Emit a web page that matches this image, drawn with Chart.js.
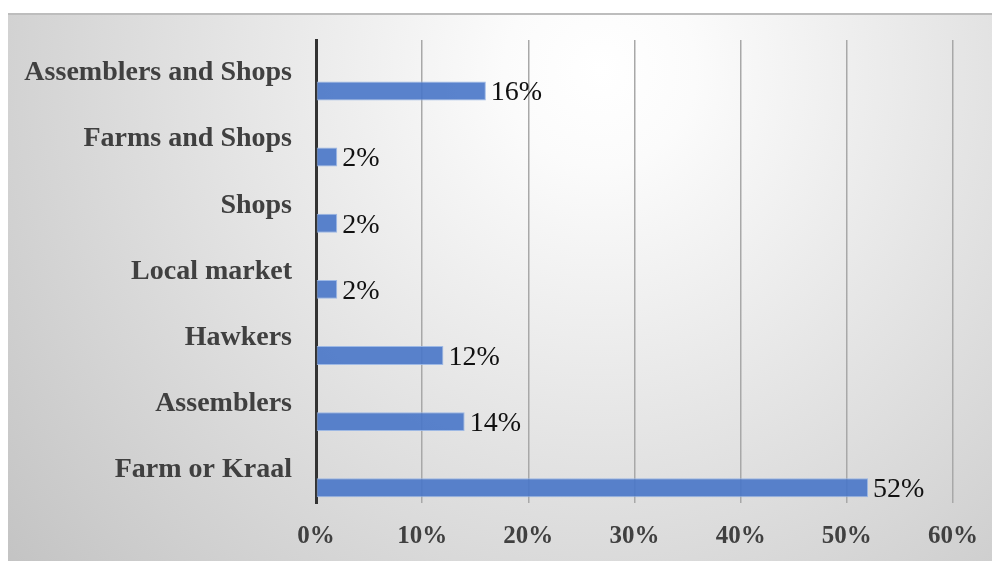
<!DOCTYPE html>
<html>
<head>
<meta charset="utf-8">
<script src="https://cdn.jsdelivr.net/npm/chart.js@4/dist/chart.umd.min.js"></script>
<style>
  html, body { margin: 0; padding: 0; background: #ffffff; }
  #wrap { width: 992px; height: 561px; position: relative; }
</style>
</head>
<body>
<div id="wrap"><canvas id="c" width="992" height="561"></canvas></div>
<script>
// ---- data ----
const categories = ["Assemblers and Shops", "Farms and Shops", "Shops", "Local market", "Hawkers", "Assemblers", "Farm or Kraal"];
const shareValues = [16, 2, 2, 2, 12, 14, 52];
const hiddenSeries = [null, null, null, null, null, null, null];
const xTicks = [0, 10, 20, 30, 40, 50, 60];

const bgPlugin = {
  id: 'bg',
  beforeDraw(chart) {
    const ctx = chart.ctx;
    ctx.save();
    const g = ctx.createRadialGradient(600, 70, 0, 600, 70, 800);
    g.addColorStop(0, '#ffffff');
    g.addColorStop(0.12, '#fbfbfb');
    g.addColorStop(1, '#c1c1c1');
    ctx.fillStyle = g;
    ctx.fillRect(8, 13, 992 - 8, 561 - 13);
    ctx.strokeStyle = '#bdbdbd';
    ctx.lineWidth = 2;
    ctx.beginPath();
    ctx.moveTo(8, 14);
    ctx.lineTo(992, 14);
    ctx.stroke();
    ctx.restore();
  }
};

const labelPlugin = {
  id: 'valueLabels',
  afterDatasetsDraw(chart) {
    const ctx = chart.ctx;
    const meta = chart.getDatasetMeta(1);
    const data = chart.data.datasets[1].data;
    ctx.save();
    ctx.font = '28px "Liberation Serif", "Times New Roman", serif';
    ctx.fillStyle = '#111111';
    ctx.textAlign = 'left';
    ctx.textBaseline = 'middle';
    meta.data.forEach((bar, i) => {
      ctx.fillText(data[i] + '%', bar.x + 5, bar.y + 2);
    });
    ctx.restore();
  }
};

new Chart(document.getElementById('c'), {
  type: 'bar',
  data: {
    labels: categories,
    datasets: [
      { label: 'hidden', data: hiddenSeries, backgroundColor: 'rgba(0,0,0,0)' },
      {
        label: 'Share',
        data: shareValues,
        backgroundColor: 'rgba(72,118,200,0.9)',
        borderColor: 'rgba(150,180,228,0.9)',
        borderWidth: 1,
        borderSkipped: false
      }
    ]
  },
  options: {
    indexAxis: 'y',
    responsive: false,
    animation: false,
    devicePixelRatio: 1,
    categoryPercentage: 1.08,
    barPercentage: 0.53,
    layout: { padding: { left: 8, right: 39, top: 40, bottom: 0 } },
    plugins: { legend: { display: false }, tooltip: { enabled: false } },
    scales: {
      x: {
        min: 0,
        max: 60,
        afterBuildTicks(scale) { scale.ticks = xTicks.map(v => ({ value: v })); },
        afterFit(scale) { scale.height = 58; scale.paddingLeft = 0; scale.paddingRight = 0; },
        ticks: {
          padding: 19,
          color: '#404040',
          font: { family: '"Liberation Serif", "Times New Roman", serif', size: 25, weight: 'bold' },
          callback: v => v + '%'
        },
        grid: {
          drawTicks: false,
          color: ctx => ctx.index === 0 ? 'rgba(0,0,0,0)' : '#a8a8a8',
          lineWidth: 1.5
        },
        border: { display: false }
      },
      y: {
        afterFit(scale) { scale.width = 308; scale.paddingTop = 0; scale.paddingBottom = 0; },
        ticks: {
          padding: 24,
          color: '#404040',
          font: { family: '"Liberation Serif", "Times New Roman", serif', size: 28, weight: 'bold' }
        },
        grid: { display: false, drawTicks: false },
        border: { display: true, color: '#333333', width: 3 }
      }
    }
  },
  plugins: [bgPlugin, labelPlugin]
});
</script>
</body>
</html>
